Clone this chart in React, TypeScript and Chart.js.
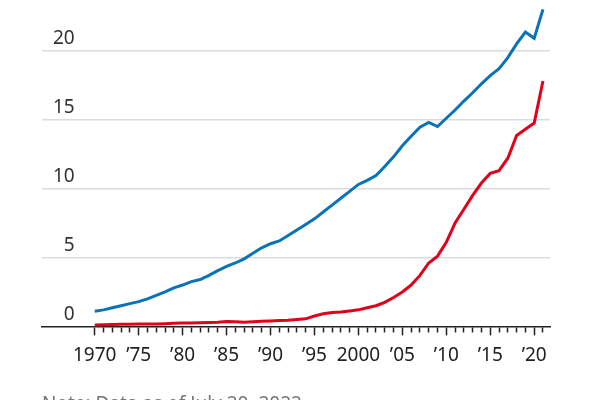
import React, { useEffect, useRef } from "react";
import { Chart, registerables } from "chart.js";

Chart.register(...registerables);

const years: number[] = [
  1970, 1971, 1972, 1973, 1974, 1975, 1976, 1977, 1978, 1979,
  1980, 1981, 1982, 1983, 1984, 1985, 1986, 1987, 1988, 1989,
  1990, 1991, 1992, 1993, 1994, 1995, 1996, 1997, 1998, 1999,
  2000, 2001, 2002, 2003, 2004, 2005, 2006, 2007, 2008, 2009,
  2010, 2011, 2012, 2013, 2014, 2015, 2016, 2017, 2018, 2019,
  2020, 2021,
];

const blueSeries: number[] = [
  1.1, 1.2, 1.35, 1.5, 1.65, 1.8, 2.0, 2.25, 2.5, 2.8,
  3.0, 3.25, 3.4, 3.7, 4.05, 4.35, 4.6, 4.9, 5.3, 5.7,
  6.0, 6.2, 6.6, 7.0, 7.4, 7.8, 8.3, 8.8, 9.3, 9.8,
  10.3, 10.6, 10.95, 11.6, 12.3, 13.1, 13.8, 14.45, 14.8, 14.5,
  15.1, 15.7, 16.35, 16.95, 17.6, 18.2, 18.7, 19.5, 20.5, 21.35,
  20.9, 23.0,
];

const redSeries: number[] = [
  0.1, 0.12, 0.14, 0.15, 0.16, 0.17, 0.18, 0.18, 0.2, 0.22,
  0.24, 0.25, 0.26, 0.28, 0.3, 0.35, 0.33, 0.3, 0.34, 0.37,
  0.4, 0.42, 0.45, 0.5, 0.55, 0.75, 0.92, 1.0, 1.05, 1.12,
  1.2, 1.35, 1.5, 1.75, 2.1, 2.5, 3.0, 3.7, 4.6, 5.1,
  6.1, 7.5, 8.5, 9.5, 10.4, 11.1, 11.3, 12.2, 13.85, 14.3,
  14.75, 17.8,
];

const yTicks: number[] = [0, 5, 10, 15, 20];
const noteText = "Note: Data as of July 20, 2022";

function xLabel(v: number): string {
  if (v < 1970 || v % 5 !== 0) return "";
  if (v === 1970 || v === 2000) return String(v);
  return "\u2019" + String(v).slice(2);
}

export default function App() {
  const ref = useRef<HTMLCanvasElement>(null);

  useEffect(() => {
    if (!ref.current) return;
    const font = "'Noto Sans', 'Open Sans', sans-serif";
    const chart = new Chart(ref.current, {
      type: "line",
      data: {
        datasets: [
          {
            data: years.map((y, i) => ({ x: y, y: blueSeries[i] })),
            borderColor: "#0a72b6",
            borderWidth: 3,
            pointRadius: 0,
            tension: 0,
            clip: false,
          },
          {
            data: years.map((y, i) => ({ x: y, y: redSeries[i] })),
            borderColor: "#e2001a",
            borderWidth: 3,
            pointRadius: 0,
            tension: 0,
            clip: false,
          },
        ],
      },
      options: {
        animation: false,
        responsive: false,
        layout: { padding: { left: 42, right: 50, top: 0, bottom: 14 } },
        plugins: {
          legend: { display: false },
          tooltip: { enabled: false },
          title: {
            display: true,
            text: noteText,
            position: "bottom",
            align: "start",
            color: "#777",
            font: { family: font, size: 19, weight: "normal" },
            padding: { top: 17, bottom: 0 },
          },
        },
        scales: {
          x: {
            type: "linear",
            min: 1964,
            max: 2021.8,
            ticks: {
              stepSize: 1,
              autoSkip: false,
              maxRotation: 0,
              includeBounds: false,
              padding: 9,
              color: "#222",
              font: { family: font, size: 19 },
              callback: (v: any) => xLabel(Number(v)),
            },
            grid: {
              drawOnChartArea: false,
              drawTicks: true,
              tickLength: 9,
              tickWidth: 1.5,
              tickColor: (ctx: any) =>
                ctx.tick && ctx.tick.value >= 1970 ? "#222" : "rgba(0,0,0,0)",
              tickBorderDash: (ctx: any) =>
                ctx.tick && ctx.tick.value % 5 === 0 ? [] : [5, 100],
            },
            border: { display: true, color: "#222", width: 1.5 },
          },
          y: {
            type: "linear",
            min: 0,
            max: 23.68,
            afterFit: (scale: any) => {
              scale.width = 0;
              scale.paddingTop = 0;
            },
            afterBuildTicks: (scale: any) => {
              scale.ticks = yTicks.map((v) => ({ value: v }));
            },
            ticks: {
              mirror: true,
              crossAlign: "far",
              padding: 11,
              labelOffset: -12,
              color: "#333",
              font: { family: font, size: 19 },
            },
            grid: {
              drawTicks: false,
              lineWidth: 1.5,
              color: (ctx: any) =>
                ctx.tick && ctx.tick.value === 0 ? "rgba(0,0,0,0)" : "#dcdcdc",
            },
            border: { display: false },
          },
        },
      },
    });
    return () => chart.destroy();
  }, []);

  return (
    <div
      style={{
        position: "fixed",
        left: 0,
        top: 0,
        width: 600,
        height: 400,
        overflow: "hidden",
        background: "#fff",
      }}
    >
      <canvas ref={ref} width={600} height={430} style={{ width: 600, height: 430 }} />
    </div>
  );
}
